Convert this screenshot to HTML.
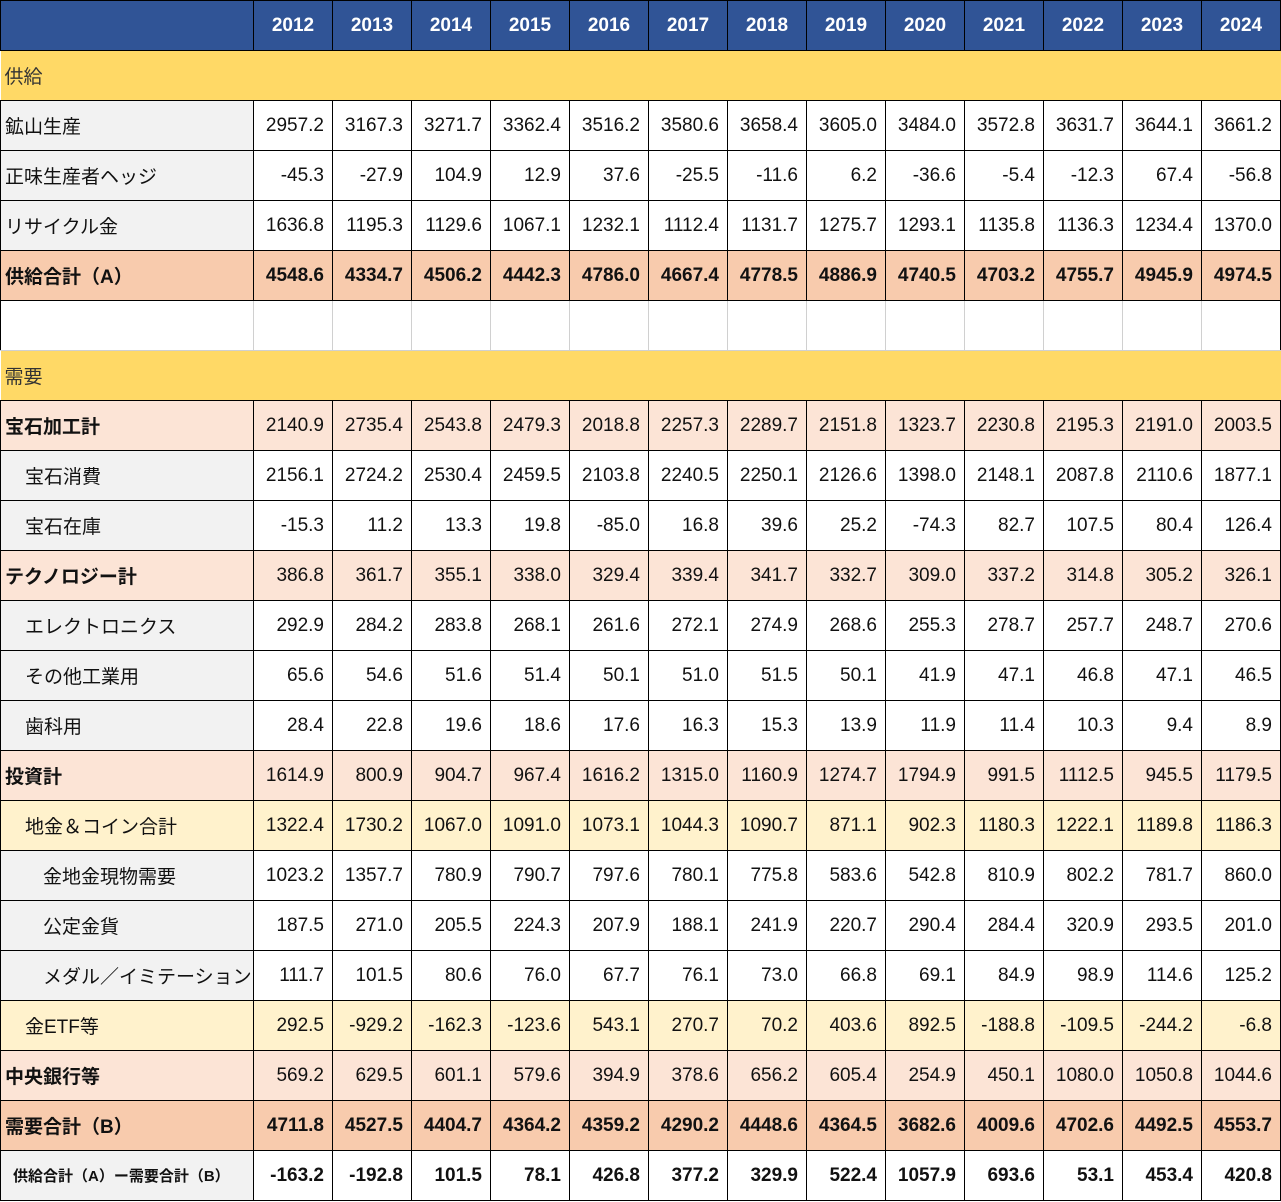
<!DOCTYPE html>
<html><head><meta charset="utf-8"><style>
body{margin:0;background:#fff;}
table{border-collapse:collapse;table-layout:fixed;width:1281px;font-family:"Liberation Sans","Noto Sans CJK JP",sans-serif;font-size:19px;color:#111;}
td{border:1px solid #000;height:49px;padding:0 8px 0 4px;text-align:right;white-space:nowrap;overflow:hidden;}
td:first-child{text-align:left;padding-left:4px;}
tr.h td{background:#305496;color:#fff;font-weight:bold;text-align:center;padding:0;font-size:19px;}
tr.sec td{background:#FFD966;border-left:none;border-right:none;color:#333;}
tr.n td:first-child{background:#F2F2F2;}
tr.t td{background:#F8CBAD;font-weight:bold;}
tr.p td{background:#FCE4D6;}
tr.p td:first-child{font-weight:bold;}
tr.y td{background:#FFF2CC;}
tr.b td{border-color:#d0d0d0;}
tr.b td:first-child{border-left-color:#000;}
tr.b td:last-child{border-right-color:#000;}
tr.f td{font-weight:bold;}
tr.f td:first-child{background:#F2F2F2;font-size:15px;padding-left:12px;}
.i1{padding-left:24px!important;}
.i2{padding-left:42px!important;}
</style></head><body>
<table>
<colgroup><col style="width:253px"><col span="13" style="width:79px"></colgroup>
<tr class="h"><td></td><td>2012</td><td>2013</td><td>2014</td><td>2015</td><td>2016</td><td>2017</td><td>2018</td><td>2019</td><td>2020</td><td>2021</td><td>2022</td><td>2023</td><td>2024</td></tr>
<tr class="sec"><td colspan="14" style="text-align:left">供給</td></tr>
<tr class="n"><td>鉱山生産</td><td>2957.2</td><td>3167.3</td><td>3271.7</td><td>3362.4</td><td>3516.2</td><td>3580.6</td><td>3658.4</td><td>3605.0</td><td>3484.0</td><td>3572.8</td><td>3631.7</td><td>3644.1</td><td>3661.2</td></tr>
<tr class="n"><td>正味生産者ヘッジ</td><td>-45.3</td><td>-27.9</td><td>104.9</td><td>12.9</td><td>37.6</td><td>-25.5</td><td>-11.6</td><td>6.2</td><td>-36.6</td><td>-5.4</td><td>-12.3</td><td>67.4</td><td>-56.8</td></tr>
<tr class="n"><td>リサイクル金</td><td>1636.8</td><td>1195.3</td><td>1129.6</td><td>1067.1</td><td>1232.1</td><td>1112.4</td><td>1131.7</td><td>1275.7</td><td>1293.1</td><td>1135.8</td><td>1136.3</td><td>1234.4</td><td>1370.0</td></tr>
<tr class="t"><td>供給合計（A）</td><td>4548.6</td><td>4334.7</td><td>4506.2</td><td>4442.3</td><td>4786.0</td><td>4667.4</td><td>4778.5</td><td>4886.9</td><td>4740.5</td><td>4703.2</td><td>4755.7</td><td>4945.9</td><td>4974.5</td></tr>
<tr class="b"><td></td><td></td><td></td><td></td><td></td><td></td><td></td><td></td><td></td><td></td><td></td><td></td><td></td><td></td></tr>
<tr class="sec"><td colspan="14" style="text-align:left">需要</td></tr>
<tr class="p"><td>宝石加工計</td><td>2140.9</td><td>2735.4</td><td>2543.8</td><td>2479.3</td><td>2018.8</td><td>2257.3</td><td>2289.7</td><td>2151.8</td><td>1323.7</td><td>2230.8</td><td>2195.3</td><td>2191.0</td><td>2003.5</td></tr>
<tr class="n"><td class="i1">宝石消費</td><td>2156.1</td><td>2724.2</td><td>2530.4</td><td>2459.5</td><td>2103.8</td><td>2240.5</td><td>2250.1</td><td>2126.6</td><td>1398.0</td><td>2148.1</td><td>2087.8</td><td>2110.6</td><td>1877.1</td></tr>
<tr class="n"><td class="i1">宝石在庫</td><td>-15.3</td><td>11.2</td><td>13.3</td><td>19.8</td><td>-85.0</td><td>16.8</td><td>39.6</td><td>25.2</td><td>-74.3</td><td>82.7</td><td>107.5</td><td>80.4</td><td>126.4</td></tr>
<tr class="p"><td>テクノロジー計</td><td>386.8</td><td>361.7</td><td>355.1</td><td>338.0</td><td>329.4</td><td>339.4</td><td>341.7</td><td>332.7</td><td>309.0</td><td>337.2</td><td>314.8</td><td>305.2</td><td>326.1</td></tr>
<tr class="n"><td class="i1">エレクトロニクス</td><td>292.9</td><td>284.2</td><td>283.8</td><td>268.1</td><td>261.6</td><td>272.1</td><td>274.9</td><td>268.6</td><td>255.3</td><td>278.7</td><td>257.7</td><td>248.7</td><td>270.6</td></tr>
<tr class="n"><td class="i1">その他工業用</td><td>65.6</td><td>54.6</td><td>51.6</td><td>51.4</td><td>50.1</td><td>51.0</td><td>51.5</td><td>50.1</td><td>41.9</td><td>47.1</td><td>46.8</td><td>47.1</td><td>46.5</td></tr>
<tr class="n"><td class="i1">歯科用</td><td>28.4</td><td>22.8</td><td>19.6</td><td>18.6</td><td>17.6</td><td>16.3</td><td>15.3</td><td>13.9</td><td>11.9</td><td>11.4</td><td>10.3</td><td>9.4</td><td>8.9</td></tr>
<tr class="p"><td>投資計</td><td>1614.9</td><td>800.9</td><td>904.7</td><td>967.4</td><td>1616.2</td><td>1315.0</td><td>1160.9</td><td>1274.7</td><td>1794.9</td><td>991.5</td><td>1112.5</td><td>945.5</td><td>1179.5</td></tr>
<tr class="y"><td class="i1">地金＆コイン合計</td><td>1322.4</td><td>1730.2</td><td>1067.0</td><td>1091.0</td><td>1073.1</td><td>1044.3</td><td>1090.7</td><td>871.1</td><td>902.3</td><td>1180.3</td><td>1222.1</td><td>1189.8</td><td>1186.3</td></tr>
<tr class="n"><td class="i2">金地金現物需要</td><td>1023.2</td><td>1357.7</td><td>780.9</td><td>790.7</td><td>797.6</td><td>780.1</td><td>775.8</td><td>583.6</td><td>542.8</td><td>810.9</td><td>802.2</td><td>781.7</td><td>860.0</td></tr>
<tr class="n"><td class="i2">公定金貨</td><td>187.5</td><td>271.0</td><td>205.5</td><td>224.3</td><td>207.9</td><td>188.1</td><td>241.9</td><td>220.7</td><td>290.4</td><td>284.4</td><td>320.9</td><td>293.5</td><td>201.0</td></tr>
<tr class="n"><td class="i2">メダル／イミテーション</td><td>111.7</td><td>101.5</td><td>80.6</td><td>76.0</td><td>67.7</td><td>76.1</td><td>73.0</td><td>66.8</td><td>69.1</td><td>84.9</td><td>98.9</td><td>114.6</td><td>125.2</td></tr>
<tr class="y"><td class="i1">金ETF等</td><td>292.5</td><td>-929.2</td><td>-162.3</td><td>-123.6</td><td>543.1</td><td>270.7</td><td>70.2</td><td>403.6</td><td>892.5</td><td>-188.8</td><td>-109.5</td><td>-244.2</td><td>-6.8</td></tr>
<tr class="p"><td>中央銀行等</td><td>569.2</td><td>629.5</td><td>601.1</td><td>579.6</td><td>394.9</td><td>378.6</td><td>656.2</td><td>605.4</td><td>254.9</td><td>450.1</td><td>1080.0</td><td>1050.8</td><td>1044.6</td></tr>
<tr class="t"><td>需要合計（B）</td><td>4711.8</td><td>4527.5</td><td>4404.7</td><td>4364.2</td><td>4359.2</td><td>4290.2</td><td>4448.6</td><td>4364.5</td><td>3682.6</td><td>4009.6</td><td>4702.6</td><td>4492.5</td><td>4553.7</td></tr>
<tr class="f"><td>供給合計（A）ー需要合計（B）</td><td>-163.2</td><td>-192.8</td><td>101.5</td><td>78.1</td><td>426.8</td><td>377.2</td><td>329.9</td><td>522.4</td><td>1057.9</td><td>693.6</td><td>53.1</td><td>453.4</td><td>420.8</td></tr>
</table>
</body></html>
